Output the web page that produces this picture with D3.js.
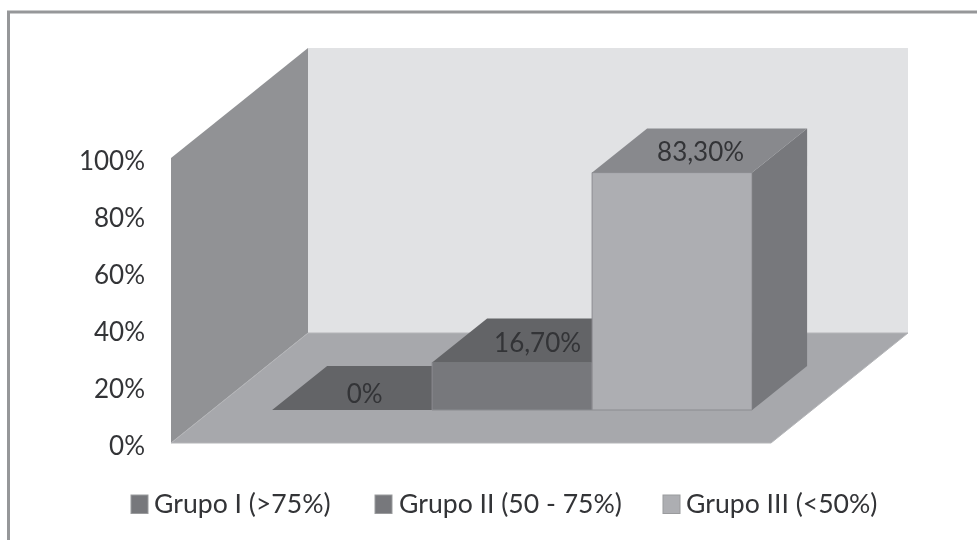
<!DOCTYPE html>
<html><head><meta charset="utf-8">
<script src="https://cdnjs.cloudflare.com/ajax/libs/d3/7.8.5/d3.min.js"></script>
<style>html,body{margin:0;padding:0;background:#fff}svg{display:block;filter:blur(0.5px)}text{font-family:Lato,"Open Sans",sans-serif}</style>
</head><body><svg id="c" width="977" height="540"></svg>
<script>
const categories = ["Grupo I (>75%)", "Grupo II (50 - 75%)", "Grupo III (<50%)"];
const values = [0, 16.7, 83.3];
const valueLabels = ["0%", "16,70%", "83,30%"];
const tickValues = [0, 20, 40, 60, 80, 100];
const frontColors = ["#77787c", "#77787c", "#adaeb2"];
const topColors = ["#636467", "#636467", "#88898d"];
const sideColors = ["#77787c", "#77787c", "#77787c"];
const labelShiftX = [-15, -2, 1];
const labelShiftY = [-7, -10, -12];
const legendX = [131, 375, 663];
const legendTextX = [154, 399, 686];

const svg = d3.select("#c");
const textCol = "#333437";
const fs = 26;
const legendFs = 26.6;
// frame (open on the right and bottom)
svg.append("path").attr("d","M8.5,540V12H977").attr("fill","none").attr("stroke","#969799").attr("stroke-width",3);

// projection
const left=171, right=771, base=443, top100=158, dx=137, dy=-110;
const y = d3.scaleLinear().domain([0,100]).range([base,top100]);
const line = d3.line();
const poly = (pts,fill,stroke)=>svg.append("path").attr("d",line(pts)+"Z").attr("fill",fill).attr("stroke",stroke||"none").attr("stroke-width",1);

poly([[left+dx,y(100)+dy],[right+dx,y(100)+dy],[right+dx,base+dy],[left+dx,base+dy]],"#e1e2e4");
poly([[left,y(100)],[left+dx,y(100)+dy],[left+dx,base+dy],[left,base]],"#919295");
poly([[left,base],[right,base],[right+dx,base+dy],[left+dx,base+dy]],"#a7a8ac","#b4b5b8");

// bars
const frac=0.3, bdx=dx*frac, bdy=dy*frac, ddx=55, ddy=-44;
const x = d3.scaleBand().domain(categories).range([left+bdx,right+bdx]).paddingInner(0).paddingOuter(0.375);
categories.forEach((c,i)=>{
  const x0=x(c), x1=x0+x.bandwidth(), yb=base+bdy, h=base-y(values[i]), yt=yb-h;
  if(values[i]>0){
    poly([[x0,yt],[x1,yt],[x1,yb],[x0,yb]],frontColors[i],"#8b8c90");
    poly([[x1,yt],[x1+ddx,yt+ddy],[x1+ddx,yb+ddy],[x1,yb]],sideColors[i]);
  }
  poly([[x0,yt],[x1,yt],[x1+ddx,yt+ddy],[x0+ddx,yt+ddy]],topColors[i]);
});
categories.forEach((c,i)=>{
  const yt=base+bdy-(base-y(values[i]));
  svg.append("text").attr("x",x(c)+x.bandwidth()/2+ddx/2+labelShiftX[i]).attr("y",yt+labelShiftY[i])
    .attr("text-anchor","middle").attr("font-size",fs).attr("fill",textCol).text(valueLabels[i]);
});

// axis
const axis = d3.axisLeft(y).tickValues(tickValues).tickSize(0).tickPadding(26).tickFormat(d=>d+"%");
const g = svg.append("g").attr("transform",`translate(${left},0)`).call(axis);
g.select(".domain").remove();
g.selectAll("text").attr("font-size",fs).attr("fill",textCol).attr("dy","0.37em").attr("y",2).style("font-family","Lato");

// legend
categories.forEach((c,i)=>{
  svg.append("rect").attr("x",legendX[i]).attr("y",495).attr("width",17).attr("height",18.5).attr("fill",frontColors[i]).attr("stroke","#9a9b9d");
  svg.append("text").attr("x",legendTextX[i]).attr("y",512.5).attr("font-size",legendFs).attr("fill",textCol).text(c);
});
</script></body></html>
